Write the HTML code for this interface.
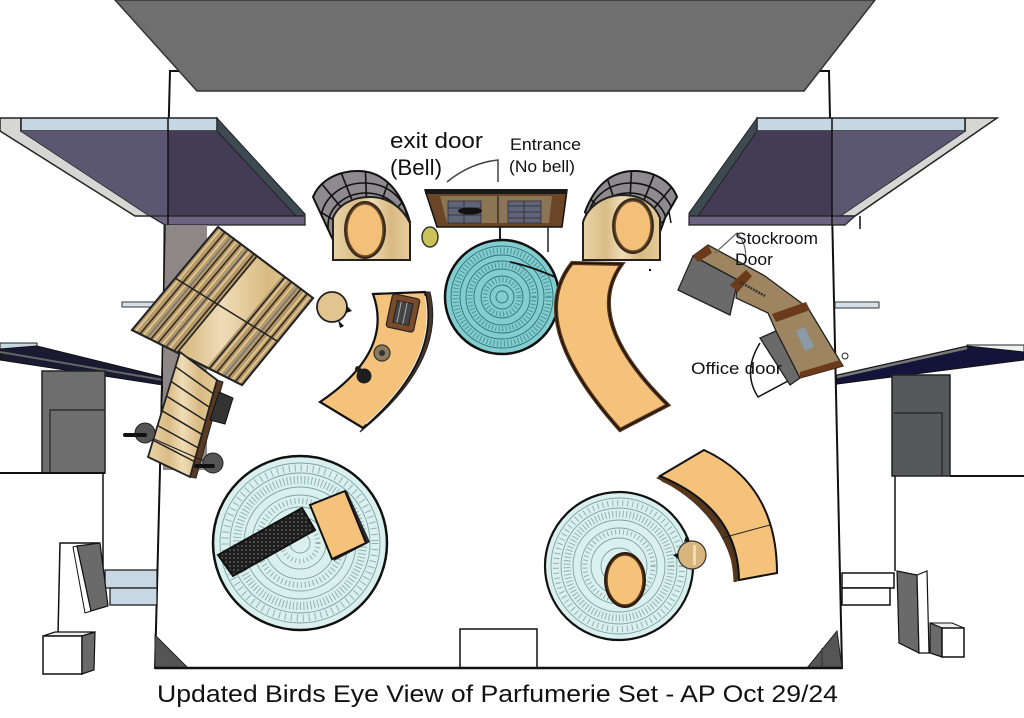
<!DOCTYPE html>
<html><head><meta charset="utf-8"><style>
html,body{margin:0;padding:0;background:#fff;}
svg{display:block;}
text{font-family:"Liberation Sans",Arial,sans-serif;fill:#111;}
</style></head><body>
<svg width="1024" height="718" viewBox="0 0 1024 718" xmlns="http://www.w3.org/2000/svg">
<defs>
 <linearGradient id="wood" x1="0" y1="0" x2="1" y2="0">
  <stop offset="0" stop-color="#e9d3a6"/>
  <stop offset="0.3" stop-color="#d9bc86"/>
  <stop offset="0.5" stop-color="#efdcb6"/>
  <stop offset="0.75" stop-color="#d8ba82"/>
  <stop offset="1" stop-color="#e6cc9b"/>
 </linearGradient>
 <pattern id="dots" width="4" height="4" patternUnits="userSpaceOnUse"><rect width="4" height="4" fill="#1e1e1e"/><circle cx="2" cy="2" r="0.9" fill="#6a6a6a"/></pattern>
 <clipPath id="domeL"><path d="M313,197 C320,180 338,171 358,171 C382,171 400,188 410,222 L333,240 Z"/></clipPath>
 <clipPath id="domeR"><path d="M585,212 C595,185 612,171 634,171 C656,171 672,183 677,197 L665,218 L660,232 L600,240 Z"/></clipPath>
</defs>

<!-- room -->
<polygon points="170,71 829,71 842,668 155,668" fill="#fff" stroke="#111" stroke-width="2"/>
<!-- top gray -->
<polygon points="115,0 875,0 804,91 197,91" fill="#6f6f6f" stroke="#333" stroke-width="1.5"/>

<!-- top-left panel -->
<polygon points="0,118 21,118 21,131 150,216 135,216 0,131" fill="#d6d6d4" stroke="#222" stroke-width="1.5"/>
<polygon points="21,118 217,118 217,131 21,131" fill="#c6d6e2" stroke="#222" stroke-width="1.5"/>
<polygon points="21,131 168,131 168,216 150,216" fill="#5c5770"/>
<polygon points="168,131 217,131 296,216 168,216" fill="#443b54"/>
<polygon points="217,118 305,214 305,225 296,216 217,131" fill="#3e4a52" stroke="#222" stroke-width="1"/>
<polygon points="150,216 305,216 305,225 165,225" fill="#6a6482" stroke="#222" stroke-width="1.2"/>
<line x1="168" y1="118" x2="168" y2="225" stroke="#111" stroke-width="1.5"/>

<!-- top-right panel -->
<polygon points="965,118 997,118 855,216 840,216 965,131" fill="#d6d6d4" stroke="#222" stroke-width="1.5"/>
<polygon points="757,118 965,118 965,131 757,131" fill="#c6d6e2" stroke="#222" stroke-width="1.5"/>
<polygon points="757,131 832,131 832,216 698,216" fill="#443b54"/>
<polygon points="832,131 965,131 840,216 832,216" fill="#5c5770"/>
<polygon points="757,118 689,213 689,225 698,216 757,131" fill="#3e4a52" stroke="#222" stroke-width="1"/>
<polygon points="689,216 855,216 845,225 689,225" fill="#6a6482" stroke="#222" stroke-width="1.2"/>
<line x1="832" y1="118" x2="832" y2="225" stroke="#111" stroke-width="1.5"/>
<line x1="860" y1="216" x2="860" y2="229" stroke="#111" stroke-width="1.5"/>

<!-- bars -->
<rect x="122" y="302" width="32" height="5" fill="#d5e0e8" stroke="#333" stroke-width="1"/>
<rect x="835" y="302" width="44" height="6" fill="#d5e0e8" stroke="#333" stroke-width="1"/>

<!-- left lower wall stuff -->
<polygon points="0,343 37,343 37,349 0,349" fill="#c6d6e2" stroke="#222" stroke-width="1"/>
<polygon points="0,349 37,346 163,377 163,385 0,360" fill="#1a1a33" stroke="#111" stroke-width="1"/>
<line x1="0" y1="352" x2="163" y2="380" stroke="#666" stroke-width="2"/>
<rect x="42" y="371" width="63" height="102" fill="#6e6e6e" stroke="#222" stroke-width="1.5"/>
<polyline points="50,473 50,410 105,410" fill="none" stroke="#222" stroke-width="1.2"/>
<line x1="0" y1="473" x2="105" y2="473" stroke="#111" stroke-width="2"/>
<line x1="103" y1="473" x2="103" y2="570" stroke="#111" stroke-width="1.5"/>
<rect x="105" y="570" width="52" height="18" fill="#c9d7e2" stroke="#111" stroke-width="1.2"/>
<rect x="110" y="588" width="47" height="17" fill="#c9d7e2" stroke="#111" stroke-width="1.2"/>
<polyline points="100,543 60,543 58,635" fill="none" stroke="#111" stroke-width="1.5"/>
<polygon points="73,547 77,546 91,611 85,613" fill="#fff" stroke="#111" stroke-width="1"/>
<polygon points="77,546 100,543 108,606 91,611" fill="#6a6a6a" stroke="#111" stroke-width="1.2"/>
<polygon points="43,636 55,632 95,632 82,636" fill="#eee" stroke="#111" stroke-width="1.2"/>
<rect x="43" y="636" width="39" height="38" fill="#fff" stroke="#111" stroke-width="1.5"/>
<polygon points="82,636 95,632 94,670 82,674" fill="#6a6a6a" stroke="#111" stroke-width="1.2"/>
<polygon points="155,635 155,668 188,668" fill="#555" stroke="#222" stroke-width="1"/>

<!-- right lower wall stuff -->
<polygon points="967,345 1024,345 1024,352 967,352" fill="#eef0f2" stroke="#222" stroke-width="1"/>
<polygon points="837,375 967,346 1024,352 1024,360 837,384" fill="#14143a" stroke="#111" stroke-width="1"/>
<line x1="837" y1="377" x2="967" y2="348" stroke="#777" stroke-width="2.5"/>
<rect x="892" y="375" width="58" height="101" fill="#55595c" stroke="#222" stroke-width="1.5"/>
<polyline points="894,413 942,413 942,476" fill="none" stroke="#222" stroke-width="1.2"/>
<line x1="950" y1="476" x2="1024" y2="476" stroke="#111" stroke-width="2"/>
<line x1="895" y1="476" x2="895" y2="571" stroke="#111" stroke-width="1.5"/>
<rect x="842" y="573" width="52" height="15" fill="#fff" stroke="#111" stroke-width="1.5"/>
<rect x="842" y="588" width="48" height="17" fill="#fff" stroke="#111" stroke-width="1.5"/>
<polygon points="897,571 917,575 919,653 899,643" fill="#6a6a6a" stroke="#111" stroke-width="1.2"/>
<polygon points="917,575 927,571 929,653 919,653" fill="#fff" stroke="#111" stroke-width="1.2"/>
<polygon points="930,623 952,623 964,628 942,628" fill="#eee" stroke="#111" stroke-width="1"/>
<polygon points="930,623 942,628 942,657 930,653" fill="#6a6a6a" stroke="#111" stroke-width="1.2"/>
<rect x="942" y="628" width="22" height="29" fill="#fff" stroke="#111" stroke-width="1.5"/>
<polygon points="837,631 807,668 842,668" fill="#555" stroke="#222" stroke-width="1"/>
<line x1="822" y1="648" x2="822" y2="668" stroke="#333" stroke-width="1"/>

<!-- bottom center rect -->
<rect x="460" y="629" width="77" height="39" fill="#fff" stroke="#111" stroke-width="1.5"/>
<line x1="155" y1="668" x2="842" y2="668" stroke="#111" stroke-width="2.5"/>

<!-- gray column -->
<rect x="163" y="225" width="44" height="245" fill="#8e8787"/>
<line x1="165" y1="225" x2="160" y2="470" stroke="#111" stroke-width="1.5"/>

<!-- shelf unit -->
<polygon points="218,227 313,298 242,385 132,330" fill="url(#wood)" stroke="#222" stroke-width="2"/>
<polygon points="218,227 258,257 178,353 132,330" fill="#b39a6e"/>
<polygon points="283,275 313,298 242,385 207,367" fill="#b39a6e"/>
<g stroke-width="1.6">
<line x1="221" y1="229" x2="135" y2="332" stroke="#e8c98e"/>
<line x1="225" y1="232" x2="140" y2="334" stroke="#3a2a1a"/>
<line x1="228" y1="234" x2="143" y2="336" stroke="#e8c98e"/>
<line x1="231" y1="237" x2="147" y2="338" stroke="#777"/>
<line x1="234" y1="239" x2="151" y2="339" stroke="#3a2a1a"/>
<line x1="237" y1="241" x2="154" y2="341" stroke="#e8c98e"/>
<line x1="241" y1="244" x2="158" y2="343" stroke="#3a2a1a"/>
<line x1="244" y1="246" x2="162" y2="345" stroke="#e8c98e"/>
<line x1="248" y1="249" x2="166" y2="347" stroke="#555"/>
<line x1="250" y1="251" x2="169" y2="349" stroke="#e8c98e"/>
<line x1="254" y1="254" x2="174" y2="351" stroke="#3a2a1a"/>
<line x1="257" y1="256" x2="177" y2="353" stroke="#222"/>
<line x1="285" y1="277" x2="209" y2="369" stroke="#222"/>
<line x1="287" y1="279" x2="212" y2="370" stroke="#e8c98e"/>
<line x1="291" y1="282" x2="217" y2="372" stroke="#3a2a1a"/>
<line x1="294" y1="284" x2="220" y2="374" stroke="#e8c98e"/>
<line x1="298" y1="287" x2="224" y2="376" stroke="#777"/>
<line x1="301" y1="289" x2="228" y2="378" stroke="#3a2a1a"/>
<line x1="305" y1="292" x2="232" y2="380" stroke="#e8c98e"/>
<line x1="307" y1="294" x2="235" y2="382" stroke="#3a2a1a"/>
<line x1="310" y1="296" x2="239" y2="383" stroke="#e8c98e"/>
</g>
<line x1="175" y1="278" x2="277" y2="341" stroke="#222" stroke-width="1.5"/>
<polygon points="218,227 313,298 242,385 132,330" fill="none" stroke="#222" stroke-width="2"/>

<!-- stairs -->
<polygon points="217,380 223,382 196,478 190,477" fill="#5a3a22" stroke="#222" stroke-width="1"/>
<polygon points="180,352 217,380 190,477 148,457" fill="url(#wood)" stroke="#222" stroke-width="1.8"/>
<g stroke="#222" stroke-width="1.5">
<line x1="175.5" y1="366.7" x2="213.2" y2="393.6"/>
<line x1="171" y1="381.4" x2="209.4" y2="407.2"/>
<line x1="166.6" y1="396.1" x2="205.7" y2="420.7"/>
<line x1="162.1" y1="410.8" x2="201.9" y2="434.3"/>
<line x1="157.6" y1="425.5" x2="198.1" y2="447.9"/>
<line x1="153.1" y1="440.2" x2="194.3" y2="461.5"/>
</g>
<polygon points="219,392 233,398 225,424 210,420" fill="#333" stroke="#111" stroke-width="1"/>
<line x1="145" y1="435" x2="213" y2="465" stroke="#222" stroke-width="1.2"/>
<circle cx="145" cy="433" r="10" fill="#555" stroke="#222" stroke-width="1"/>
<line x1="125" y1="435" x2="145" y2="435" stroke="#111" stroke-width="4" stroke-linecap="round"/>
<circle cx="213" cy="463" r="10" fill="#555" stroke="#222" stroke-width="1"/>
<line x1="196" y1="466" x2="213" y2="466" stroke="#111" stroke-width="4" stroke-linecap="round"/>

<!-- left booth -->
<path d="M313,197 C320,180 338,171 358,171 C382,171 400,188 410,222 L333,240 Z" fill="#8e8b8e" stroke="#111" stroke-width="2"/>
<g clip-path="url(#domeL)" stroke="#111" stroke-width="1.6" fill="none">
 <ellipse cx="364" cy="220" rx="43" ry="37"/>
 <ellipse cx="366" cy="226" rx="38" ry="33"/>
 <line x1="368" y1="240" x2="300" y2="200"/>
 <line x1="368" y1="240" x2="312" y2="172"/>
 <line x1="368" y1="240" x2="336" y2="160"/>
 <line x1="368" y1="240" x2="365" y2="160"/>
 <line x1="368" y1="240" x2="395" y2="163"/>
 <line x1="368" y1="240" x2="418" y2="185"/>
</g>
<path d="M333,260 L333,218 C338,205 352,197 370,197 C388,197 402,207 410,223 L410,260 Z" fill="url(#wood)" stroke="#222" stroke-width="2"/>
<ellipse cx="365" cy="230" rx="21" ry="29" fill="#3a2a1a"/>
<ellipse cx="365" cy="230" rx="18" ry="26" fill="#f3c07a" stroke="#6b4a2a" stroke-width="1.5"/>

<!-- right booth -->
<path d="M585,212 C595,185 612,171 634,171 C656,171 672,183 677,197 L665,218 L660,232 L600,240 Z" fill="#8e8b8e" stroke="#111" stroke-width="2"/>
<g clip-path="url(#domeR)" stroke="#111" stroke-width="1.6" fill="none">
 <ellipse cx="631" cy="220" rx="43" ry="37"/>
 <ellipse cx="629" cy="226" rx="38" ry="33"/>
 <line x1="628" y1="240" x2="695" y2="205"/>
 <line x1="628" y1="240" x2="684" y2="172"/>
 <line x1="628" y1="240" x2="660" y2="160"/>
 <line x1="628" y1="240" x2="632" y2="160"/>
 <line x1="628" y1="240" x2="602" y2="163"/>
 <line x1="628" y1="240" x2="578" y2="185"/>
</g>
<path d="M583,260 L583,222 C588,207 602,196 622,195 C642,195 655,205 660,218 L660,260 Z" fill="url(#wood)" stroke="#222" stroke-width="2"/>
<ellipse cx="633" cy="226" rx="21" ry="28" fill="#3a2a1a"/>
<ellipse cx="633" cy="226" rx="18" ry="25" fill="#f3c07a" stroke="#6b4a2a" stroke-width="1.5"/>
<line x1="669" y1="212" x2="671" y2="223" stroke="#111" stroke-width="1.5"/>
<circle cx="650" cy="270" r="1.2" fill="#111"/>

<!-- yellow cylinder -->
<ellipse cx="430" cy="237" rx="8" ry="10" fill="#c9c35a" stroke="#333" stroke-width="1.5"/>

<!-- entrance door panel -->
<polygon points="425,190 567,190 562,227 437,227" fill="#6b4528" stroke="#111" stroke-width="1.5"/>
<polygon points="440,196 552,196 549,223 447,223" fill="#8c7554"/>
<rect x="448" y="201" width="33" height="22" fill="#5f6478" stroke="#333" stroke-width="0.8"/>
<rect x="508" y="201" width="33" height="22" fill="#5f6478" stroke="#333" stroke-width="0.8"/>
<g stroke="#2a2a2a" stroke-width="0.8">
<line x1="464" y1="201" x2="464" y2="223"/><line x1="448" y1="208" x2="481" y2="208"/><line x1="448" y1="215" x2="481" y2="215"/>
<line x1="524" y1="201" x2="524" y2="223"/><line x1="508" y1="206" x2="541" y2="206"/><line x1="508" y1="212" x2="541" y2="212"/><line x1="508" y1="218" x2="541" y2="218"/>
</g>
<ellipse cx="470" cy="211" rx="12" ry="3.5" fill="#111"/>
<line x1="498" y1="196" x2="498" y2="223" stroke="#222" stroke-width="1.2"/>
<rect x="425" y="189" width="142" height="5" fill="#1a1a1a"/>
<line x1="500" y1="227" x2="500" y2="241" stroke="#222" stroke-width="2"/>
<line x1="548" y1="227" x2="548" y2="252" stroke="#222" stroke-width="1.5"/>

<!-- center teal rug -->
<circle cx="502" cy="297" r="57" fill="#82cdd0" stroke="#111" stroke-width="2.5"/>
<g fill="none" stroke="#2d7375">
 <circle cx="502" cy="297" r="51" stroke-width="0.9"/>
 <circle cx="502" cy="297" r="46.5" stroke-width="6" stroke-dasharray="0.9 2.6" opacity="0.7"/>
 <circle cx="502" cy="297" r="42" stroke-width="0.9"/>
 <circle cx="502" cy="297" r="36" stroke-width="0.9"/>
 <circle cx="502" cy="297" r="32" stroke-width="5" stroke-dasharray="0.9 2.6" opacity="0.7"/>
 <circle cx="502" cy="297" r="28" stroke-width="0.9"/>
 <circle cx="502" cy="297" r="21" stroke-width="0.9"/>
 <circle cx="502" cy="297" r="17" stroke-width="5" stroke-dasharray="0.9 2.6" opacity="0.7"/>
 <circle cx="502" cy="297" r="12" stroke-width="0.9"/>
 <circle cx="502" cy="297" r="6" stroke-width="0.9"/>
</g>
<path d="M510,262 Q530,266 555,277" fill="none" stroke="#111" stroke-width="1.8"/>

<!-- left curved counter -->
<path d="M425,292 Q442,360 363,428 L360,432 Q447,362 430,292 Z" fill="#4a3626" stroke="#222" stroke-width="1"/>
<path d="M373,294 L425,292 Q442,360 363,428 L320,402 Q394,352 373,294 Z" fill="#f4c27b" stroke="#111" stroke-width="2.2"/>
<path d="M425,296 Q438,360 366,424" fill="none" stroke="#eee" stroke-width="1"/>
<g transform="rotate(12 403 313)">
 <rect x="389" y="296" width="28" height="34" rx="3" fill="#7a4a2a" stroke="#222" stroke-width="1.2"/>
 <rect x="395" y="302" width="16" height="22" fill="#444" stroke="#222" stroke-width="1"/>
 <line x1="399" y1="302" x2="399" y2="324" stroke="#aaa" stroke-width="1"/>
 <line x1="405" y1="302" x2="405" y2="324" stroke="#aaa" stroke-width="1"/>
</g>
<circle cx="382" cy="353" r="8" fill="#8a7a60" stroke="#333" stroke-width="1.2"/>
<circle cx="382" cy="353" r="3" fill="#333"/>
<circle cx="364" cy="376" r="7.5" fill="#1e1e1e"/>
<circle cx="358" cy="369" r="3" fill="#1e1e1e"/>

<!-- left stool -->
<circle cx="332" cy="307" r="15" fill="#e2c48f" stroke="#222" stroke-width="1.8"/>
<path d="M346,305 L352,311 L346,313 Z" fill="#111"/>
<path d="M338,320 L344,326 L340,328 Z" fill="#111"/>

<!-- right curved counter -->
<path d="M572,263 L622,264 Q581,320 668,405 L620,430 Q524,323 572,263 Z" fill="#f4c27b" stroke="#5a3518" stroke-width="4"/>
<path d="M572,263 L622,264 Q581,320 668,405 L620,430 Q524,323 572,263 Z" fill="none" stroke="#111" stroke-width="1.2"/>

<!-- right stockroom desk -->
<polygon points="678,290 693,256 738,280 730,315" fill="#6a6a6a" stroke="#222" stroke-width="1.3"/>
<polygon points="760,338 776,331 800,378 790,385" fill="#6a6a6a" stroke="#222" stroke-width="1.3"/>
<polygon points="693,256 708,245 765,276 808,308 843,366 800,378 776,331 768,313 736,298 738,280" fill="#9c8560" stroke="#222" stroke-width="1.3"/>
<polygon points="693,256 708,245 712,253 698,262" fill="#6b3a1a"/>
<polygon points="730,285 746,270 752,276 738,292" fill="#6b3a1a"/>
<polygon points="772,314 806,302 810,310 776,322" fill="#6b3a1a"/>
<polygon points="800,372 840,360 843,366 800,378" fill="#6b3a1a"/>
<rect x="800" y="328" width="10" height="22" fill="#8a9aa6" transform="rotate(-25 805 339)"/>
<line x1="740" y1="282" x2="765" y2="296" stroke="#333" stroke-width="2.5" stroke-dasharray="2 1"/>
<path d="M715,253 L737,233 Q748,245 745,263" fill="none" stroke="#666" stroke-width="1.2"/>
<path d="M760,343 Q742,372 758,397 L788,381" fill="none" stroke="#111" stroke-width="1.5"/>
<circle cx="845" cy="356" r="3" fill="#fff" stroke="#222" stroke-width="1"/>

<!-- bottom-left rug -->
<circle cx="300" cy="543" r="87" fill="#d9f0ee" stroke="#111" stroke-width="2.5"/>
<g fill="none" stroke="#7fa3a3">
 <circle cx="300" cy="543" r="80" stroke-width="0.9"/>
 <circle cx="300" cy="543" r="75" stroke-width="7" stroke-dasharray="1 5" opacity="0.8"/>
 <circle cx="300" cy="543" r="70" stroke-width="0.9"/>
 <circle cx="300" cy="543" r="63" stroke-width="8" stroke-dasharray="1 2.5" opacity="0.8"/>
 <circle cx="300" cy="543" r="56" stroke-width="0.9"/>
 <circle cx="300" cy="543" r="48" stroke-width="0.9"/>
 <circle cx="300" cy="543" r="42" stroke-width="6" stroke-dasharray="1 3" opacity="0.8"/>
 <circle cx="300" cy="543" r="36" stroke-width="0.9"/>
 <circle cx="300" cy="543" r="26" stroke-width="0.9"/>
 <circle cx="300" cy="543" r="18" stroke-width="5" stroke-dasharray="1 3" opacity="0.8"/>
 <circle cx="300" cy="543" r="10" stroke-width="0.9"/>
</g>
<polygon points="218,555 302,508 315,530 233,576" fill="url(#dots)" stroke="#111" stroke-width="2"/>
<polygon points="312,503 347,491 370,542 334,561" fill="#2a2a2a"/>
<polygon points="310,505 345,491 366,543 332,559" fill="#f4c27b" stroke="#111" stroke-width="2"/>

<!-- bottom-right rug -->
<circle cx="619" cy="566" r="74" fill="#d9f0ee" stroke="#111" stroke-width="2.2"/>
<g fill="none" stroke="#7fa3a3">
 <circle cx="619" cy="566" r="68" stroke-width="0.9"/>
 <circle cx="619" cy="566" r="63" stroke-width="6" stroke-dasharray="1 4" opacity="0.8"/>
 <circle cx="619" cy="566" r="58" stroke-width="0.9"/>
 <circle cx="619" cy="566" r="52" stroke-width="7" stroke-dasharray="1 2.5" opacity="0.8"/>
 <circle cx="619" cy="566" r="46" stroke-width="0.9"/>
 <circle cx="619" cy="566" r="38" stroke-width="0.9"/>
 <circle cx="619" cy="566" r="34" stroke-width="5" stroke-dasharray="1 3" opacity="0.8"/>
 <circle cx="619" cy="566" r="28" stroke-width="0.9"/>
 <circle cx="619" cy="566" r="18" stroke-width="0.9"/>
</g>
<ellipse cx="625" cy="580" rx="21" ry="28" fill="#2a1a10"/>
<ellipse cx="625" cy="580" rx="18" ry="25" fill="#f4c27b" stroke="#5a3518" stroke-width="1.5"/>

<!-- right stool -->
<circle cx="692" cy="555" r="14" fill="#d9b57e" stroke="#333" stroke-width="1.2"/>
<rect x="693" y="545" width="3" height="20" fill="#eedcb8"/>
<path d="M678,553 L673,555 L678,559 Z" fill="#111"/>
<path d="M684,542 L686,536 L690,541 Z" fill="#111"/>

<!-- bottom-right bench -->
<path d="M660,476 Q738,508 739,580 L736,582 Q726,512 656,478 Z" fill="#4a3626"/>
<path d="M660,476 L704,450 Q777,484 777,573 L739,580 Q738,508 660,476 Z" fill="#f4c27b" stroke="#111" stroke-width="2"/>
<path d="M662,480 Q733,512 735,582" fill="none" stroke="#5a3518" stroke-width="3"/>
<line x1="722" y1="538" x2="770" y2="525" stroke="#222" stroke-width="1"/>

<!-- labels -->
<text x="390" y="148" font-size="22" textLength="93" lengthAdjust="spacingAndGlyphs">exit door</text>
<text x="390" y="175" font-size="22" textLength="52" lengthAdjust="spacingAndGlyphs">(Bell)</text>
<path d="M447,182 Q470,163 498,160 L498,182" fill="none" stroke="#444" stroke-width="1.5"/>
<text x="510" y="150" font-size="16.5" textLength="71" lengthAdjust="spacingAndGlyphs">Entrance</text>
<text x="509" y="172" font-size="16.5" textLength="66" lengthAdjust="spacingAndGlyphs">(No bell)</text>
<text x="735" y="244" font-size="16.5" textLength="83" lengthAdjust="spacingAndGlyphs">Stockroom</text>
<text x="735" y="265" font-size="16.5" textLength="38" lengthAdjust="spacingAndGlyphs">Door</text>
<text x="691" y="374" font-size="17" textLength="91" lengthAdjust="spacingAndGlyphs">Office door</text>
<text x="157" y="702" font-size="24" textLength="681" lengthAdjust="spacingAndGlyphs">Updated Birds Eye View of Parfumerie Set - AP Oct 29/24</text>
</svg>
</body></html>
